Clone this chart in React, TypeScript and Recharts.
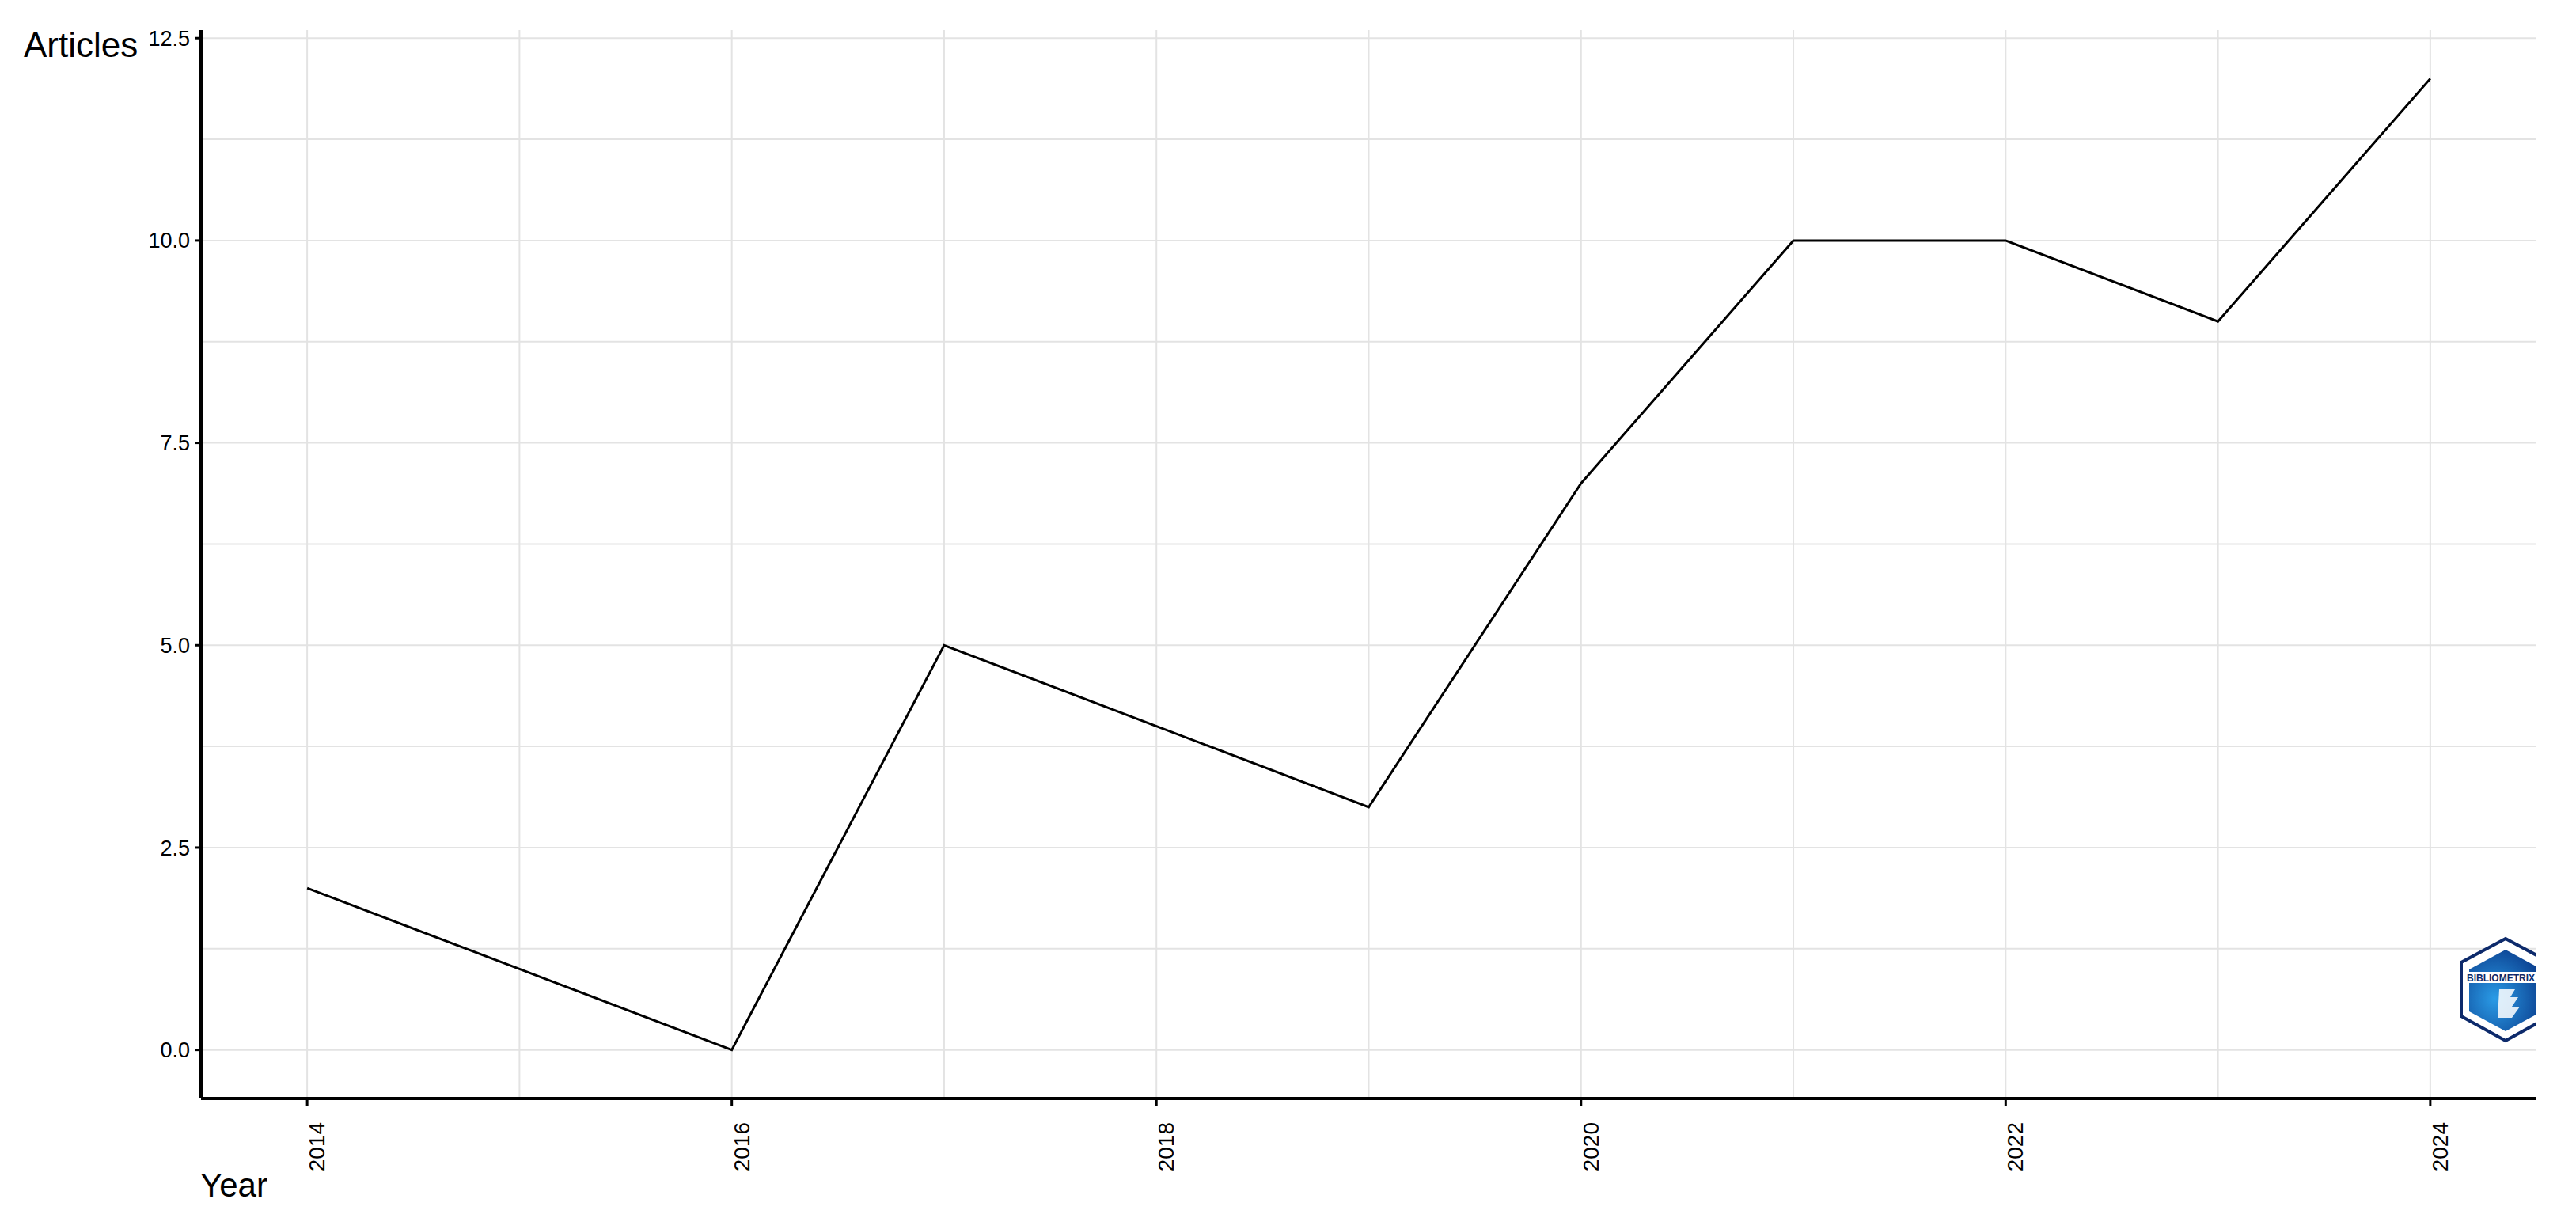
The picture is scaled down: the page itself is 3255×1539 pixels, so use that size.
import React from 'react';
import { LineChart, Line, XAxis, YAxis, CartesianGrid } from 'recharts';

const years = [2014, 2015, 2016, 2017, 2018, 2019, 2020, 2021, 2022, 2023, 2024];
const articles = [2, 1, 0, 5, 4, 3, 7, 10, 10, 9, 12];
const yearTicks = [2014, 2016, 2018, 2020, 2022, 2024];
const articleTicks = [0, 2.5, 5, 7.5, 10, 12.5];
const minorYears = [2015, 2017, 2019, 2021, 2023];
const minorArticles = [1.25, 3.75, 6.25, 8.75, 11.25];

const data = years.map((y, i) => ({ year: y, articles: articles[i] }));

const W = 3255;
const H = 1539;
const FONT = '"Liberation Sans", Arial, sans-serif';

const YearTick = (props: any) => {
  const { x, y, payload } = props;
  const ax = x + 22;
  const ay = y + 19;
  return (
    <text
      x={ax}
      y={ay}
      transform={`rotate(-90, ${ax}, ${ay})`}
      textAnchor="end"
      fontSize={28}
      fontFamily={FONT}
      fill="#000"
    >
      {payload.value}
    </text>
  );
};

export default function App() {
  return (
    <div style={{ position: 'absolute', left: 0, top: 0, width: W, height: H, background: '#fff' }}>
      <LineChart
        width={W}
        height={H}
        data={data}
        margin={{ top: 38, right: 50, bottom: 0, left: 0 }}
      >
        <CartesianGrid
          stroke="#e3e3e3"
          strokeWidth={2}
          horizontalValues={[...articleTicks, ...minorArticles]}
          verticalValues={[...yearTicks, ...minorYears]}
        />
        <XAxis
          dataKey="year"
          type="number"
          domain={[2013.5, 2024.5]}
          ticks={yearTicks}
          height={151}
          tickSize={9}
          axisLine={{ stroke: '#000', strokeWidth: 4 }}
          tickLine={{ stroke: '#000', strokeWidth: 3 }}
          tick={<YearTick />}
          interval={0}
        />
        <YAxis
          type="number"
          domain={[-0.6, 12.6]}
          ticks={articleTicks}
          allowDataOverflow
          width={254}
          tickSize={8}
          tickMargin={6}
          axisLine={{ stroke: '#000', strokeWidth: 4 }}
          tickLine={{ stroke: '#000', strokeWidth: 3 }}
          tick={{ fontSize: 27, fontFamily: FONT, fill: '#000' }}
          tickFormatter={(v: number) => v.toFixed(1)}
          interval={0}
        />
        <Line
          type="linear"
          dataKey="articles"
          stroke="#000"
          strokeWidth={3}
          dot={false}
          activeDot={false}
          isAnimationActive={false}
        />
      </LineChart>
      <svg
        width={W}
        height={H}
        style={{ position: 'absolute', left: 0, top: 0, pointerEvents: 'none' }}
      >
        <text x={30} y={72} fontSize={44} fontFamily={FONT} fill="#000">Articles</text>
        <text x={253} y={1512} fontSize={42} fontFamily={FONT} fill="#000">Year</text>
        <defs>
          <radialGradient id="logoFill" cx="35%" cy="60%" r="70%">
            <stop offset="0%" stopColor="#2a9be6" />
            <stop offset="100%" stopColor="#0b3f8f" />
          </radialGradient>
          <clipPath id="logoClip">
            <rect x={3100} y={1180} width={105} height={140} />
          </clipPath>
        </defs>
        <g clipPath="url(#logoClip)">
          <polygon
            points="3166,1186 3222,1216 3222,1284 3166,1315 3110,1284 3110,1216"
            fill="#fff"
            stroke="#0d2a6b"
            strokeWidth={4}
          />
          <polygon
            points="3166,1200 3212,1225 3212,1278 3166,1303 3120,1278 3120,1225"
            fill="url(#logoFill)"
          />
          <rect x={3114} y={1228} width={100} height={14} fill="#fff" />
          <text x={3117} y={1240} fontSize={12} fontWeight="bold" fontFamily={FONT} fill="#0d2a6b">BIBLIOMETRIX</text>
          <path d="M3158,1250 l20,0 l-6,10 l10,0 l-8,12 l10,0 l-10,14 l-18,0 z" fill="#fff" opacity={0.85} />
        </g>
      </svg>
    </div>
  );
}
